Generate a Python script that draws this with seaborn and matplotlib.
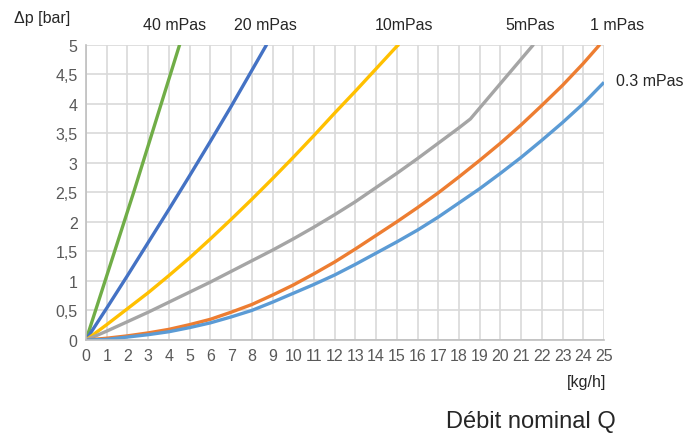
import matplotlib
matplotlib.use('Agg')
import matplotlib.pyplot as plt
import seaborn as sns
import pandas as pd

# data: flow [kg/h] vs pressure drop [bar]
x_40 = [0, 2.3, 4.52]
y_40 = [0, 2.5, 5.0]

x_20 = [0, 1, 2, 3, 4, 5, 6, 7, 8, 8.72]
y_20 = [0, 0.54, 1.09, 1.65, 2.21, 2.78, 3.36, 3.95, 4.56, 5.0]

x_10 = [0, 1, 2, 3, 4, 5, 6, 7, 8, 9, 10, 11, 12, 13, 14, 15, 15.1]
y_10 = [0, 0.26, 0.53, 0.8, 1.09, 1.39, 1.71, 2.04, 2.38, 2.73, 3.09, 3.46, 3.84, 4.21, 4.59, 4.97, 5.0]

x_5 = [0, 1, 2, 3, 4, 5, 6, 7, 8, 9, 10, 11, 12, 13, 14, 15, 16, 17, 18, 18.55, 21.6]
y_5 = [0, 0.15, 0.31, 0.47, 0.64, 0.81, 0.98, 1.16, 1.34, 1.52, 1.71, 1.91, 2.12, 2.34, 2.58,
       2.82, 3.07, 3.33, 3.59, 3.74, 5.0]

x_1 = [0, 1, 2, 3, 4, 5, 6, 7, 8, 9, 10, 11, 12, 13, 14, 15, 16, 17, 18, 19, 20, 21, 22, 23, 24, 24.8]
y_1 = [0, 0.03, 0.07, 0.12, 0.18, 0.26, 0.35, 0.47, 0.6, 0.76, 0.93, 1.12, 1.32, 1.54, 1.77,
       2.0, 2.24, 2.49, 2.76, 3.04, 3.33, 3.64, 3.97, 4.31, 4.68, 5.0]

x_03 = [0, 1, 2, 3, 4, 5, 6, 7, 8, 9, 10, 11, 12, 13, 14, 15, 16, 17, 18, 19, 20, 21, 22, 23, 24, 25]
y_03 = [0, 0.01, 0.05, 0.09, 0.14, 0.21, 0.29, 0.39, 0.5, 0.64, 0.79, 0.94, 1.1, 1.28, 1.47,
        1.66, 1.86, 2.08, 2.32, 2.56, 2.82, 3.09, 3.38, 3.68, 4.0, 4.36]

labels = ['40 mPas', '20 mPas', '10mPas', '5mPas', '1 mPas', '0.3 mPas']
colors = ['#70AD47', '#4472C4', '#FFC000', '#A5A5A5', '#ED7D31', '#5B9BD5']

x_ticks = list(range(0, 26))
y_ticks = [0, 0.5, 1, 1.5, 2, 2.5, 3, 3.5, 4, 4.5, 5]
y_ticklabels = ['0', '0,5', '1', '1,5', '2', '2,5', '3', '3,5', '4', '4,5', '5']

series = [(x_40, y_40), (x_20, y_20), (x_10, y_10), (x_5, y_5), (x_1, y_1), (x_03, y_03)]
frames = []
for (xs, ys), lab in zip(series, labels):
    frames.append(pd.DataFrame({'Q': xs, 'dp': ys, 'visc': lab}))
df = pd.concat(frames, ignore_index=True)

sns.set_style('white')
plt.rcParams['font.family'] = ['Liberation Sans', 'DejaVu Sans']

fig = plt.figure(figsize=(6.86, 4.35), dpi=100)
ax = fig.add_axes([0.1254, 0.2161, 0.7551, 0.6793])

sns.lineplot(data=df, x='Q', y='dp', hue='visc', palette=dict(zip(labels, colors)),
             hue_order=labels, linewidth=2.4, legend=False, ax=ax, sort=False)
for ln in ax.lines:
    ln.set_solid_joinstyle('round')
    ln.set_solid_capstyle('butt')

ax.set_xlim(0, 25)
ax.set_ylim(0, 5)
ax.set_xticks(x_ticks)
ax.set_yticks(y_ticks)
ax.set_yticklabels(y_ticklabels)
ax.grid(True, color='#d9d9d9', linewidth=1.2)
ax.set_axisbelow(True)
ax.tick_params(axis='both', length=0, labelsize=11.5, colors='#595959', pad=6)
for s in ['top', 'right']:
    ax.spines[s].set_visible(False)
for s in ['left', 'bottom']:
    ax.spines[s].set_color('#bfbfbf')
    ax.spines[s].set_linewidth(1.2)
ax.set_xlabel('')
ax.set_ylabel('')

# curve labels
fs = 11.5
fig.text(175 / 686, 1 - 25 / 435, '40 mPas', ha='center', va='center', fontsize=fs)
fig.text(265 / 686, 1 - 25 / 435, '20 mPas', ha='center', va='center', fontsize=fs)
fig.text(404 / 686, 1 - 25 / 435, '10mPas', ha='center', va='center', fontsize=fs)
fig.text(530 / 686, 1 - 25 / 435, '5mPas', ha='center', va='center', fontsize=fs)
fig.text(617 / 686, 1 - 25 / 435, '1 mPas', ha='center', va='center', fontsize=fs)
fig.text(616 / 686, 1 - 82 / 435, '0.3 mPas', ha='left', va='center', fontsize=fs)

fig.text(14 / 686, 1 - 18 / 435, 'Δp [bar]', ha='left', va='center', fontsize=fs)
fig.text(606 / 686, 1 - 383 / 435, '[kg/h]', ha='right', va='center', fontsize=fs)
fig.text(616 / 686, 1 - 422 / 435, 'Débit nominal Q', ha='right', va='center', fontsize=17)

plt.savefig('out.png', dpi=100)
plt.close(fig)
